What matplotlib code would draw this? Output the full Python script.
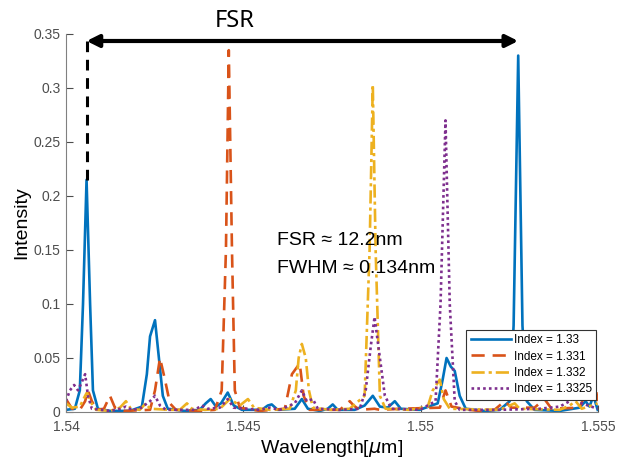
import matplotlib
matplotlib.use('Agg')
import matplotlib.pyplot as plt

# Data (wavelength in um, intensity)
wl_133 = [1.54000, 1.54025, 1.54039, 1.54048, 1.54058, 1.54068, 1.54076, 1.54090, 1.54124, 1.54180,
          1.54214, 1.54228, 1.54237, 1.54251, 1.54262, 1.54273, 1.54287, 1.54335, 1.54377, 1.54394,
          1.54408, 1.54423, 1.54437, 1.54456, 1.54473, 1.54496, 1.54552, 1.54569, 1.54580, 1.54597,
          1.54645, 1.54665, 1.54682, 1.54716, 1.54738, 1.54752, 1.54766, 1.54814, 1.54842, 1.54865,
          1.54885, 1.54907, 1.54927, 1.54944, 1.54997, 1.55048, 1.55062, 1.55073, 1.55085, 1.55096,
          1.55110, 1.55127, 1.55180, 1.55223, 1.55251, 1.55262, 1.55275, 1.55287, 1.55299, 1.55321,
          1.55392, 1.55448, 1.55465, 1.55476, 1.55487, 1.55499]
I_133 = [0.002, 0.003, 0.020, 0.100, 0.215, 0.100, 0.020, 0.003, 0.001, 0.001,
         0.005, 0.035, 0.070, 0.085, 0.050, 0.015, 0.003, 0.001, 0.002, 0.008,
         0.012, 0.005, 0.008, 0.018, 0.006, 0.002, 0.002, 0.006, 0.007, 0.002,
         0.003, 0.012, 0.003, 0.001, 0.003, 0.007, 0.002, 0.002, 0.006, 0.015,
         0.005, 0.004, 0.010, 0.003, 0.002, 0.008, 0.030, 0.050, 0.042, 0.038,
         0.015, 0.003, 0.001, 0.002, 0.010, 0.080, 0.330, 0.080, 0.010, 0.002,
         0.001, 0.004, 0.010, 0.005, 0.015, 0.002]

wl_1331 = [1.54000, 1.54017, 1.54039, 1.54054, 1.54062, 1.54073, 1.54087, 1.54107, 1.54124, 1.54138,
           1.54166, 1.54237, 1.54251, 1.54265, 1.54279, 1.54293, 1.54310, 1.54377, 1.54420, 1.54439,
           1.54451, 1.54459, 1.54468, 1.54476, 1.54490, 1.54546, 1.54617, 1.54637, 1.54648, 1.54659,
           1.54670, 1.54687, 1.54772, 1.54800, 1.54811, 1.54828, 1.54870, 1.54885, 1.54941, 1.55054,
           1.55070, 1.55087, 1.55138, 1.55166, 1.55208, 1.55237, 1.55256, 1.55321, 1.55349, 1.55369,
           1.55448, 1.55468, 1.55479, 1.55490, 1.55499]
I_1331 = [0.012, 0.003, 0.002, 0.010, 0.020, 0.010, 0.002, 0.003, 0.015, 0.004,
          0.001, 0.002, 0.020, 0.050, 0.030, 0.008, 0.002, 0.001, 0.002, 0.020,
          0.150, 0.335, 0.150, 0.020, 0.004, 0.001, 0.003, 0.035, 0.040, 0.045,
          0.015, 0.002, 0.002, 0.010, 0.006, 0.002, 0.003, 0.002, 0.003, 0.004,
          0.020, 0.005, 0.002, 0.001, 0.002, 0.010, 0.004, 0.004, 0.012, 0.003,
          0.004, 0.020, 0.050, 0.030, 0.010]

wl_1332 = [1.54000, 1.54017, 1.54039, 1.54054, 1.54059, 1.54068, 1.54085, 1.54124, 1.54152, 1.54169,
           1.54183, 1.54208, 1.54225, 1.54237, 1.54293, 1.54321, 1.54341, 1.54355, 1.54392, 1.54434,
           1.54462, 1.54490, 1.54513, 1.54530, 1.54575, 1.54631, 1.54648, 1.54656, 1.54665, 1.54676,
           1.54685, 1.54696, 1.54744, 1.54800, 1.54842, 1.54856, 1.54865, 1.54873, 1.54885, 1.54901,
           1.54969, 1.55020, 1.55034, 1.55054, 1.55065, 1.55082, 1.55223, 1.55265, 1.55279, 1.55392,
           1.55420, 1.55437, 1.55454, 1.55499]
I_1332 = [0.008, 0.004, 0.005, 0.015, 0.018, 0.010, 0.002, 0.001, 0.004, 0.010,
          0.003, 0.002, 0.008, 0.003, 0.002, 0.002, 0.008, 0.003, 0.002, 0.003,
          0.012, 0.006, 0.012, 0.004, 0.002, 0.003, 0.020, 0.050, 0.063, 0.050,
          0.020, 0.004, 0.002, 0.003, 0.015, 0.150, 0.303, 0.150, 0.015, 0.003,
          0.002, 0.005, 0.020, 0.030, 0.012, 0.003, 0.002, 0.008, 0.003, 0.002,
          0.006, 0.010, 0.003, 0.008]

wl_13325 = [1.54000, 1.54011, 1.54023, 1.54034, 1.54045, 1.54054, 1.54062, 1.54073, 1.54124, 1.54152,
            1.54169, 1.54186, 1.54208, 1.54237, 1.54251, 1.54265, 1.54282, 1.54363, 1.54383, 1.54400,
            1.54434, 1.54456, 1.54473, 1.54546, 1.54575, 1.54603, 1.54645, 1.54665, 1.54679, 1.54696,
            1.54710, 1.54772, 1.54828, 1.54845, 1.54859, 1.54870, 1.54885, 1.54899, 1.54918, 1.54997,
            1.55042, 1.55056, 1.55070, 1.55082, 1.55096, 1.55110, 1.55223, 1.55335, 1.55392, 1.55420,
            1.55437, 1.55454, 1.55499]
I_13325 = [0.010, 0.020, 0.025, 0.020, 0.028, 0.035, 0.015, 0.003, 0.001, 0.003,
           0.005, 0.002, 0.003, 0.010, 0.015, 0.006, 0.002, 0.002, 0.006, 0.003,
           0.004, 0.012, 0.004, 0.002, 0.004, 0.002, 0.008, 0.020, 0.010, 0.012,
           0.003, 0.002, 0.003, 0.020, 0.060, 0.088, 0.050, 0.015, 0.003, 0.002,
           0.010, 0.100, 0.270, 0.100, 0.010, 0.002, 0.002, 0.003, 0.005, 0.010,
           0.020, 0.008, 0.003]

labels = ['Index = 1.33', 'Index = 1.331', 'Index = 1.332', 'Index = 1.3325']

fsr_start, fsr_end = 1.54058, 1.55275
fsr_y, peak0 = 0.3435, 0.215

# Figure
plt.rcParams['font.family'] = ['Liberation Sans', 'DejaVu Sans']
fig = plt.figure(figsize=(6.26, 4.61), dpi=100)
ax = fig.add_axes([0.1054, 0.1063, 0.8499, 0.8200])

ax.plot(wl_133, I_133, color='#0072BD', lw=1.9, ls='-', label=labels[0])
ax.plot(wl_1331, I_1331, color='#D95319', lw=1.9, ls=(0, (5, 3)), label=labels[1])
ax.plot(wl_1332, I_1332, color='#EDB120', lw=1.9, ls=(0, (5, 1.5, 1.2, 1.5)), label=labels[2])
ax.plot(wl_13325, I_13325, color='#7E2F8E', lw=1.9, ls=(0, (1, 1.2)), label=labels[3])

# FSR markers
ax.plot([fsr_start, fsr_start], [peak0, fsr_y], color='black', lw=2.2, ls=(0, (3.5, 2.5)))
ax.annotate('', xy=(fsr_start, fsr_y), xytext=(fsr_end, fsr_y),
            arrowprops=dict(arrowstyle='<|-|>', color='black', lw=3, mutation_scale=18,
                            shrinkA=0, shrinkB=0))
ax.text(1.54476, 0.362, 'FSR', fontsize=17, ha='center', va='center',
        family=['Noto Sans', 'DejaVu Sans'], clip_on=False)

ax.text(1.54594, 0.159, 'FSR \u2248 12.2nm', fontsize=14, ha='left', va='center')
ax.text(1.54594, 0.133, 'FWHM \u2248 0.134nm', fontsize=14, ha='left', va='center')

ax.set_xlim(1.54, 1.555)
ax.set_ylim(0, 0.35)
ax.set_xticks([1.54, 1.545, 1.55, 1.555])
ax.set_xticklabels(['1.54', '1.545', '1.55', '1.555'])
ax.set_yticks([0, 0.05, 0.1, 0.15, 0.2, 0.25, 0.3, 0.35])
ax.set_yticklabels(['0', '0.05', '0.1', '0.15', '0.2', '0.25', '0.3', '0.35'])
ax.tick_params(direction='in', length=5, labelsize=10, colors='#4d4d4d')
ax.tick_params(axis='x', pad=6)
ax.tick_params(axis='y', pad=4)
for s in ['top', 'right']:
    ax.spines[s].set_visible(False)
for s in ['left', 'bottom']:
    ax.spines[s].set_color('#808080')

ax.set_xlabel('Wavelength[$\\mu$m]', fontsize=14, labelpad=3)
ax.set_ylabel('Intensity', fontsize=14, labelpad=2)

leg = ax.legend(loc='lower right', bbox_to_anchor=(0.997, 0.033), borderaxespad=0,
                fontsize=8.5, handlelength=3.4, handletextpad=0.2, labelspacing=0.35,
                borderpad=0.4, fancybox=False, framealpha=1)
leg.get_frame().set_edgecolor('#333333')
leg.get_frame().set_linewidth(0.8)

fig.savefig('out.png', dpi=100)
